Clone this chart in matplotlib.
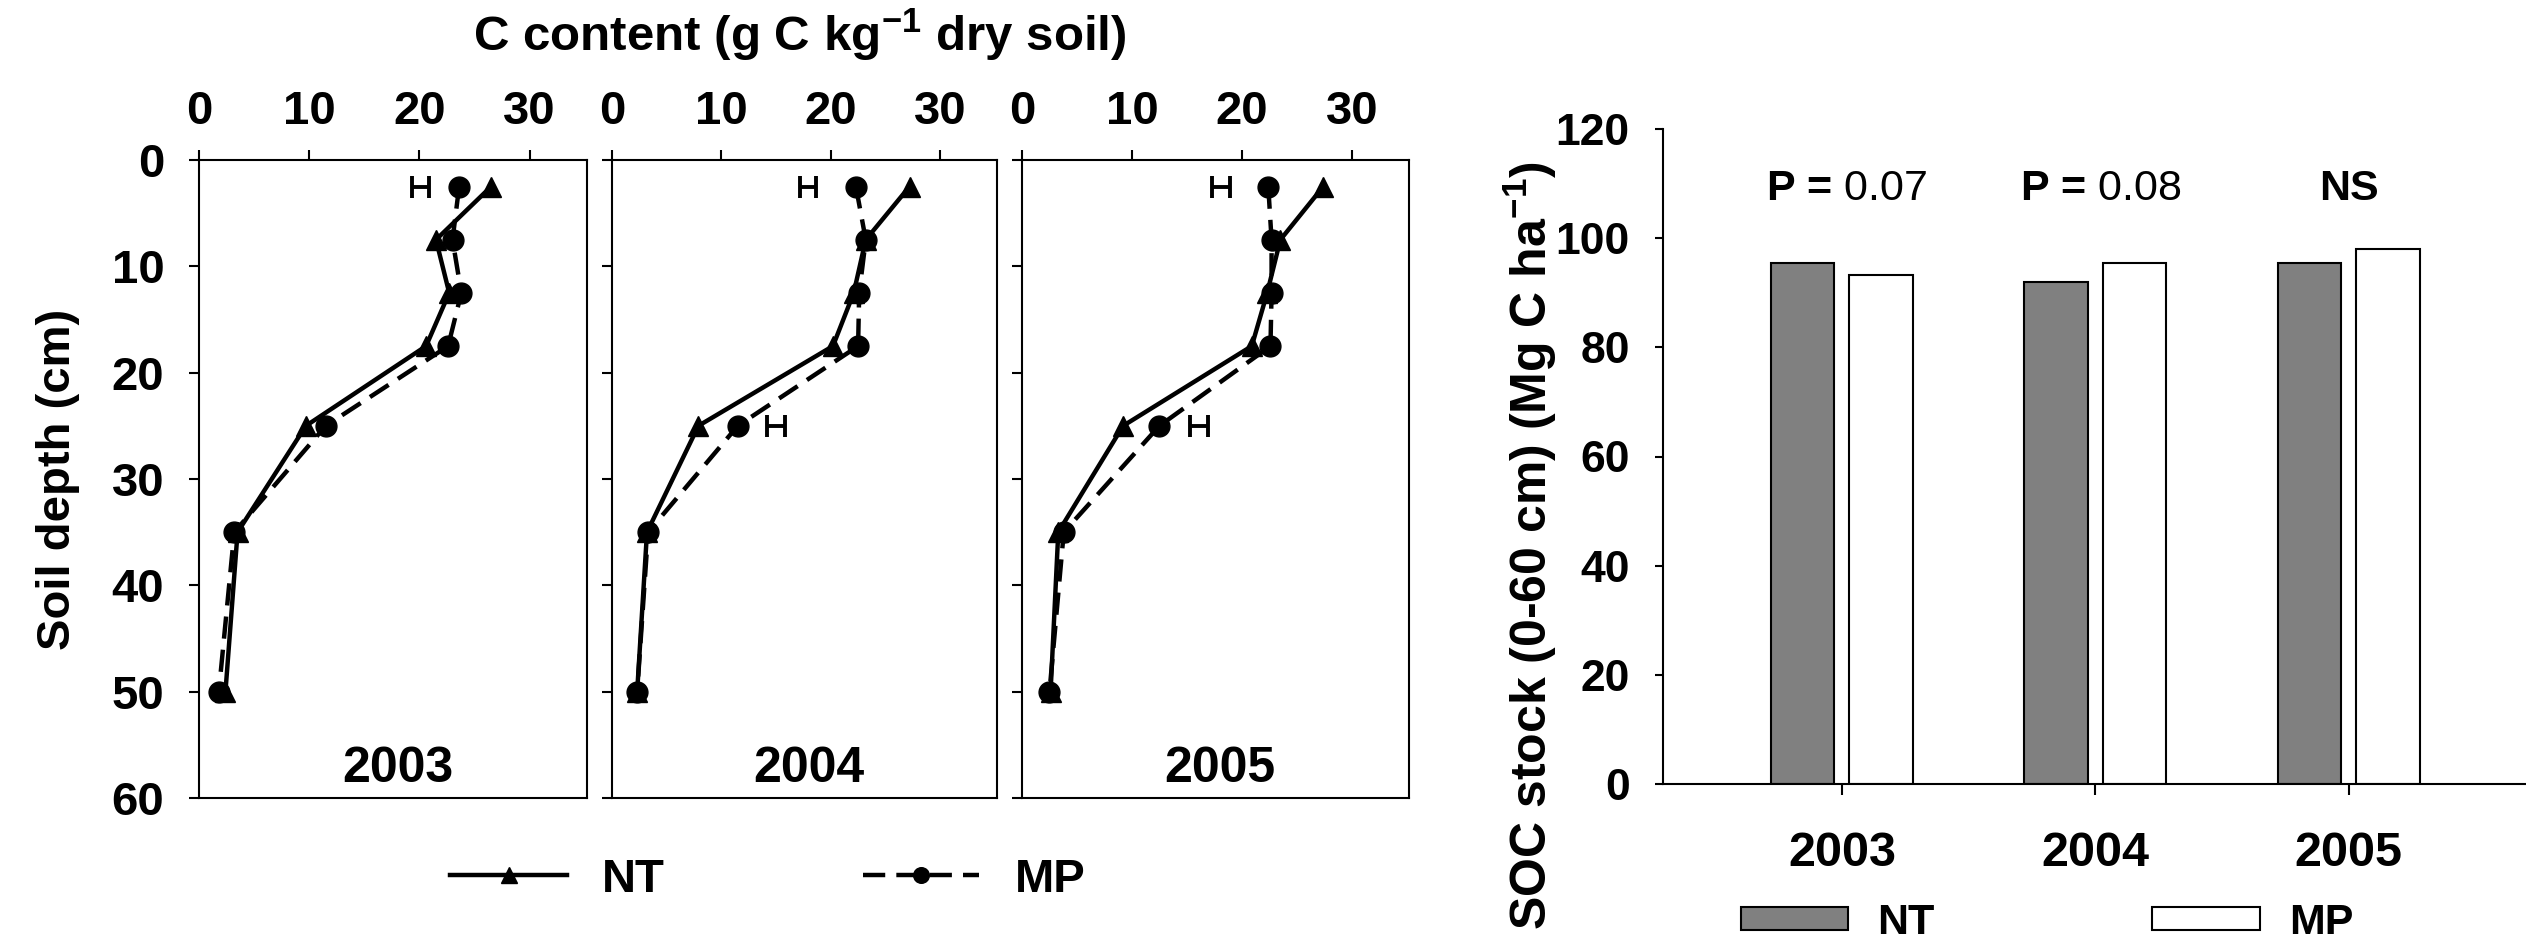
import numpy as np
import matplotlib
matplotlib.use("Agg")
import matplotlib.pyplot as plt

plt.rcParams["font.family"] = ["Liberation Sans", "DejaVu Sans"]
plt.rcParams["font.weight"] = "bold"
plt.rcParams["mathtext.fontset"] = "custom"
plt.rcParams["mathtext.rm"] = "Liberation Sans:bold"
plt.rcParams["mathtext.bf"] = "Liberation Sans:bold"
plt.rcParams["mathtext.it"] = "Liberation Sans:bold"
plt.rcParams["mathtext.sf"] = "Liberation Sans:weight=normal"
plt.rcParams["axes.linewidth"] = 1.5

# ---- depth profiles of C content (g C / kg soil) ----
years = ["2003", "2004", "2005"]
depth = [2.5, 7.5, 12.5, 17.5, 25, 35, 50]

nt_2003 = [26.5, 21.5, 22.7, 20.6, 9.7, 3.5, 2.4]
mp_2003 = [23.6, 23.0, 23.8, 22.6, 11.5, 3.2, 1.8]
nt_2004 = [27.2, 23.2, 22.1, 20.2, 7.9, 3.2, 2.3]
mp_2004 = [22.3, 23.2, 22.6, 22.5, 11.5, 3.3, 2.3]
nt_2005 = [27.4, 23.5, 22.3, 20.9, 9.2, 3.3, 2.6]
mp_2005 = [22.4, 22.7, 22.7, 22.6, 12.5, 3.8, 2.5]

# LSD bars drawn beside the profiles
lsd_x_2003 = [20.1]
lsd_depth_2003 = [2.5]
lsd_half_2003 = [0.8]
lsd_x_2004 = [17.9, 15.0]
lsd_depth_2004 = [2.5, 25]
lsd_half_2004 = [0.75, 0.85]
lsd_x_2005 = [18.1, 16.1]
lsd_depth_2005 = [2.5, 25]
lsd_half_2005 = [0.8, 0.85]

# ---- SOC stock 0-60 cm (Mg C / ha) ----
soc_nt = [95.4, 91.9, 95.4]
soc_mp = [93.2, 95.4, 98.0]
p_values = ["0.07", "0.08", "NS"]

nt_profiles = [nt_2003, nt_2004, nt_2005]
mp_profiles = [mp_2003, mp_2004, mp_2005]
lsd_x = [lsd_x_2003, lsd_x_2004, lsd_x_2005]
lsd_depth = [lsd_depth_2003, lsd_depth_2004, lsd_depth_2005]
lsd_half = [lsd_half_2003, lsd_half_2004, lsd_half_2005]

W, H = 2526, 944
fig = plt.figure(figsize=(W / 100, H / 100), dpi=100)


def box(left, right, top, bottom):
    return [left / W, 1 - bottom / H, (right - left) / W, (bottom - top) / H]


panel_x = [(199, 587), (612, 997), (1022, 1409)]
dash = (0, (5, 2.5))

for i, (l, r) in enumerate(panel_x):
    ax = fig.add_axes(box(l, r, 160, 798))

    line_nt, = ax.plot(nt_profiles[i], depth, color="k", lw=3.2,
                       marker="^", ms=15, zorder=3)
    line_mp, = ax.plot(mp_profiles[i], depth, color="k", lw=3.2,
                       linestyle=dash, marker="o", ms=15, zorder=4)
    ax.errorbar(lsd_x[i], lsd_depth[i], xerr=lsd_half[i], fmt="none",
                ecolor="k", elinewidth=2.8, capsize=8, capthick=2.8)

    ax.set_xlim(0, 35.2)
    ax.set_ylim(60, 0)
    ax.set_xticks([0, 10, 20, 30])
    ax.set_yticks([0, 10, 20, 30, 40, 50, 60])
    ax.xaxis.tick_top()
    ax.tick_params(axis="x", direction="out", length=7, width=1.5,
                   pad=12, labelsize=34)
    ax.tick_params(axis="y", direction="out", length=7, width=1.5,
                   pad=18, labelsize=34)
    if i > 0:
        ax.tick_params(labelleft=False)

    ax.text(18, 57.3, years[i], ha="center", va="center", fontsize=36)

fig.text(800 / W, 1 - 35 / H, "C content (g C kg$^{-1}$ dry soil)",
         ha="center", va="center", fontsize=35.5)
fig.text(58 / W, 1 - 479 / H, "Soil depth (cm)", rotation=90,
         ha="center", va="center", fontsize=34)

fig.legend([line_nt, line_mp], ["NT", "MP"], loc="center",
           bbox_to_anchor=(768 / W, 1 - 880 / H), ncol=2, frameon=False,
           fontsize=34, handlelength=2.46, handletextpad=0.75,
           columnspacing=4.2, borderpad=0, markerscale=0.75)

# ---- bar chart ----
bx = fig.add_axes(box(1663, 2526, 129, 784))
x = np.arange(len(years))
bars_nt = bx.bar(x - 0.155, soc_nt, 0.25, color="#808080",
                 edgecolor="k", linewidth=1.5)
bars_mp = bx.bar(x + 0.155, soc_mp, 0.25, color="white",
                 edgecolor="k", linewidth=1.5)

for xi, p in zip(x, p_values):
    if p == "NS":
        bx.text(xi, 109, p, ha="center", va="center", fontsize=31)
    else:
        # bold "P =" followed by the value in regular weight
        bx.text(xi + 0.02, 109, "P = $\\mathsf{" + p + "}$",
                ha="center", va="center", fontsize=31)

bx.set_xlim(-0.706, 2.70)
bx.set_ylim(0, 120)
bx.set_yticks(np.arange(0, 121, 20))
bx.set_xticks(x)
bx.set_xticklabels(years)
bx.spines["top"].set_visible(False)
bx.spines["right"].set_visible(False)
bx.tick_params(axis="y", direction="out", length=6, width=1.5,
               pad=18, labelsize=32)
bx.tick_params(axis="x", direction="out", length=8, width=1.5,
               pad=26, labelsize=35)

fig.text(1530 / W, 1 - 545 / H, "SOC stock (0-60 cm) (Mg C ha$^{-1}$)",
         rotation=90, ha="center", va="center", fontsize=36)

fig.legend([bars_nt, bars_mp], ["NT", "MP"], loc="center",
           bbox_to_anchor=(2047 / W, 1 - 923 / H), ncol=2, frameon=False,
           fontsize=31, handlelength=2.5, handleheight=0.42,
           handletextpad=0.67, columnspacing=5.06, borderpad=0)

fig.savefig("out.png", dpi=100)
